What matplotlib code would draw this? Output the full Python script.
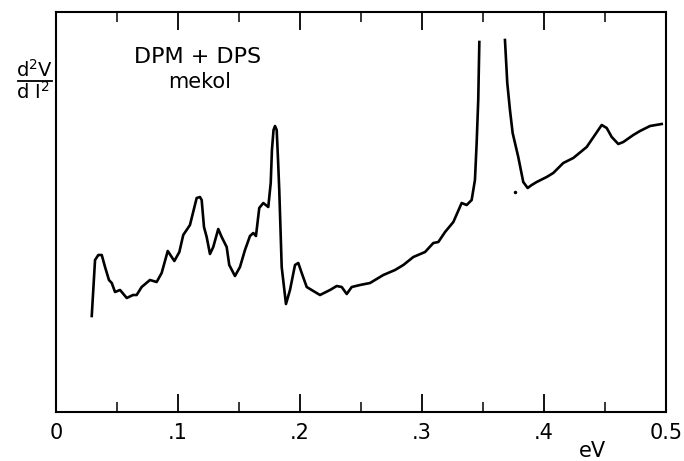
import numpy as np
import matplotlib
matplotlib.use("Agg")
import matplotlib.pyplot as plt
from matplotlib.lines import Line2D

plt.rcParams["font.family"] = ["DejaVu Sans"]
plt.rcParams["mathtext.fontset"] = "dejavusans"

# photon energy (eV) and second derivative signal (arbitrary units)
energy_low = [0.0293, 0.0320, 0.0347, 0.0375, 0.0402, 0.0434, 0.0457, 0.0484,
              0.0525, 0.0580, 0.0631, 0.0661, 0.0702, 0.0770, 0.0825, 0.0866,
              0.0916, 0.0970, 0.1011, 0.1043, 0.1098, 0.1153, 0.1180, 0.1194,
              0.1213, 0.1235, 0.1262, 0.1289, 0.1330, 0.1358, 0.1399, 0.1420,
              0.1467, 0.1508, 0.1549, 0.1590, 0.1617, 0.1639, 0.1666, 0.1699,
              0.1740, 0.1760, 0.1770, 0.1783, 0.1795, 0.1809, 0.1820, 0.1830,
              0.1850, 0.1885, 0.1918, 0.1959, 0.1986, 0.2014, 0.2055, 0.2109,
              0.2164, 0.2246, 0.2301, 0.2342, 0.2383, 0.2424, 0.2492, 0.2574,
              0.2683, 0.2779, 0.2847, 0.2929, 0.3025, 0.3093, 0.3134, 0.3189,
              0.3257, 0.3325, 0.3366, 0.3407, 0.3434, 0.3448, 0.3461, 0.3470]
signal_low = [96, 152, 157, 157, 145, 132, 129, 120,
              122, 114, 117, 117, 125, 132, 130, 139,
              161, 151, 160, 177, 187, 214, 215, 212,
              185, 175, 158, 165, 183, 175, 165, 147,
              136, 145, 162, 176, 179, 176, 204, 209,
              205, 229, 262, 282, 286, 282, 252, 222,
              145, 108, 122, 147, 149, 139, 125, 121,
              117, 122, 126, 125, 118, 125, 127, 129,
              137, 142, 147, 155, 160, 169, 170, 180,
              190, 209, 207, 212, 232, 269, 312, 370]

energy_high = [0.3680, 0.3699, 0.3721, 0.3743, 0.3789, 0.3830, 0.3866, 0.3899,
               0.3940, 0.4022, 0.4076, 0.4158, 0.4240, 0.4350, 0.4473, 0.4514,
               0.4555, 0.4609, 0.4650, 0.4732, 0.4787, 0.4869, 0.4965]
signal_high = [372, 329, 302, 279, 255, 230, 224, 227,
               230, 235, 239, 249, 254, 265, 287, 284,
               275, 268, 270, 277, 281, 286, 288]

dot_energy = [0.3762]
dot_signal = [220]

tick_pos = [0, 0.1, 0.2, 0.3, 0.4, 0.5]
tick_labels = ["0", ".1", ".2", ".3", ".4", "0.5"]

fig = plt.figure(figsize=(6.84, 4.61), dpi=100)
ax = fig.add_axes([56 / 684, 1 - 412 / 461, 610 / 684, 400 / 461])

ax.plot(energy_low, signal_low, color="black", lw=1.9)
ax.plot(energy_high, signal_high, color="black", lw=1.9)
ax.plot(dot_energy, dot_signal, "o", color="black", ms=1.5)

ax.set_xlim(0, 0.5)
ax.set_ylim(0, 400)
ax.set_yticks([])
ax.set_xticks(tick_pos)
ax.set_xticklabels(tick_labels, fontsize=15)
ax.set_xticks(np.arange(0.05, 0.5, 0.1), minor=True)
ax.tick_params(axis="x", which="major", direction="in", length=13, width=1.3,
               top=True, pad=8)
ax.tick_params(axis="x", which="minor", direction="in", length=7, width=1.1,
               top=True)
for s in ax.spines.values():
    s.set_linewidth(1.5)

fig.text(592 / 684, 1 - 451 / 461, "eV", fontsize=15, ha="center", va="center")

# y label as a stacked fraction
fig.text(34 / 684, 1 - 70 / 461, "d$^2$V", fontsize=14, ha="center",
         va="center")
fig.text(33 / 684, 1 - 92 / 461, "d I$^2$", fontsize=14, ha="center",
         va="center")
fig.add_artist(Line2D([18 / 684, 52 / 684], [1 - 81 / 461, 1 - 81 / 461],
                      color="black", lw=1.3, transform=fig.transFigure))

fig.text(198 / 684, 1 - 57 / 461, "DPM + DPS", fontsize=16, ha="center",
         va="center")
fig.text(200 / 684, 1 - 82 / 461, "mekol", fontsize=15, ha="center",
         va="center")

fig.savefig("out.png", dpi=100)
